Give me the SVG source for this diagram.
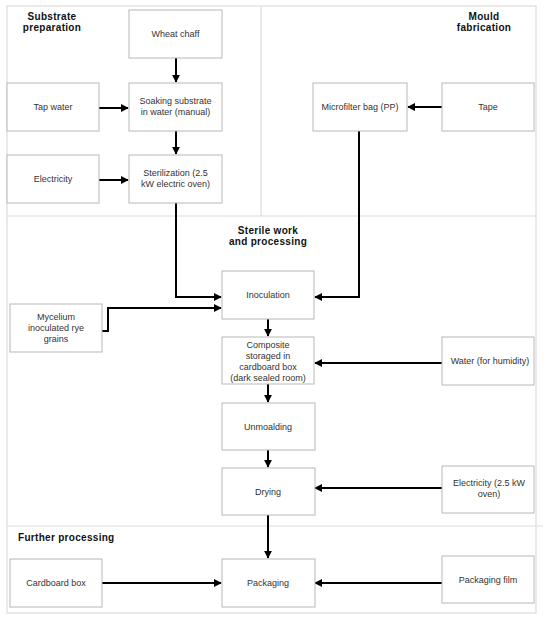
<svg xmlns="http://www.w3.org/2000/svg" width="550" height="621" viewBox="0 0 550 621">
<style>
.panel{fill:none;stroke:#dcdcdc;stroke-width:1.2}
.box{fill:#fff;stroke:#b8b8b8;stroke-width:1}
.t{font-family:"Liberation Sans",Arial,sans-serif;font-size:9px;fill:#333;text-anchor:middle}
.h{font-family:"Liberation Sans",Arial,sans-serif;font-size:10px;font-weight:bold;fill:#111;text-anchor:middle;letter-spacing:0.3px}
.c{fill:none;stroke:#000;stroke-width:2;marker-end:url(#ah)}
</style>
<defs>
<marker id="ah" viewBox="0 0 10 10" refX="9" refY="5" markerWidth="4" markerHeight="4" orient="auto" markerUnits="strokeWidth">
<path d="M0,0 L10,5 L0,10 z" fill="#000"/>
</marker>
</defs>
<rect width="550" height="621" fill="#fff"/>
<g id="panels">
<rect class="panel" x="7" y="6" width="529" height="607"/>
<line class="panel" x1="261" y1="6" x2="261" y2="216"/>
<line class="panel" x1="7" y1="216" x2="536" y2="216"/>
<line class="panel" x1="7" y1="526" x2="543" y2="526"/>
<text class="h" x="52" y="20">Substrate</text>
<text class="h" x="52" y="31">preparation</text>
<text class="h" x="484" y="20">Mould</text>
<text class="h" x="484" y="31">fabrication</text>
<text class="h" x="268" y="234">Sterile work</text>
<text class="h" x="268" y="245">and processing</text>
<text class="h" x="18" y="541" style="text-anchor:start">Further processing</text>
</g>
<g id="connectors">
<line class="c" x1="176" y1="58" x2="176" y2="82"/>
<line class="c" x1="99" y1="108" x2="128" y2="108"/>
<line class="c" x1="176" y1="131" x2="176" y2="154"/>
<line class="c" x1="99" y1="180" x2="128" y2="180"/>
<line class="c" x1="442" y1="107" x2="408" y2="107"/>
<polyline class="c" points="176,203 176,297 221,297"/>
<polyline class="c" points="359,131 359,297 315,297"/>
<polyline class="c" points="102,331 108,331 108,308 221,308"/>
<line class="c" x1="268" y1="319" x2="268" y2="336"/>
<line class="c" x1="442" y1="363" x2="315" y2="363"/>
<line class="c" x1="268" y1="384" x2="268" y2="402"/>
<line class="c" x1="268" y1="450" x2="268" y2="467"/>
<line class="c" x1="442" y1="488" x2="315" y2="488"/>
<line class="c" x1="268" y1="515" x2="268" y2="558"/>
<line class="c" x1="102" y1="583" x2="221" y2="583"/>
<line class="c" x1="442" y1="583" x2="315" y2="583"/>
</g>
<g id="wheat"><rect class="box" x="129" y="10" width="93" height="48"/><text class="t" x="175.5" y="37">Wheat chaff</text></g>
<g id="tapwater"><rect class="box" x="7" y="83" width="92" height="48"/><text class="t" x="53" y="110">Tap water</text></g>
<g id="soaking"><rect class="box" x="129" y="83" width="93" height="48"/><text class="t" x="175.5" y="104">Soaking substrate</text><text class="t" x="175.5" y="115">in water (manual)</text></g>
<g id="electricity1"><rect class="box" x="7" y="155" width="92" height="48"/><text class="t" x="53" y="182">Electricity</text></g>
<g id="sterilization"><rect class="box" x="129" y="155" width="93" height="48"/><text class="t" x="175.5" y="176">Sterilization (2.5</text><text class="t" x="175.5" y="187">kW electric oven)</text></g>
<g id="microfilter"><rect class="box" x="313" y="83" width="94" height="48"/><text class="t" x="360" y="110">Microfilter bag (PP)</text></g>
<g id="tape"><rect class="box" x="442" y="83" width="92" height="48"/><text class="t" x="488" y="110">Tape</text></g>
<g id="inoculation"><rect class="box" x="222" y="271" width="92" height="48"/><text class="t" x="268" y="298">Inoculation</text></g>
<g id="mycelium"><rect class="box" x="10" y="304" width="92" height="48"/><text class="t" x="56" y="320">Mycelium</text><text class="t" x="56" y="331">inoculated rye</text><text class="t" x="56" y="342">grains</text></g>
<g id="composite"><rect class="box" x="222" y="337" width="92" height="47"/><text class="t" x="268" y="348">Composite</text><text class="t" x="268" y="359">storaged in</text><text class="t" x="268" y="370">cardboard box</text><text class="t" x="268" y="381">(dark sealed room)</text></g>
<g id="water"><rect class="box" x="442" y="337" width="92" height="48"/><text class="t" x="490" y="364">Water (for humidity)</text></g>
<g id="unmoalding"><rect class="box" x="222" y="403" width="93" height="47"/><text class="t" x="268" y="430">Unmoalding</text></g>
<g id="drying"><rect class="box" x="222" y="468" width="93" height="47"/><text class="t" x="268" y="495">Drying</text></g>
<g id="electricity2"><rect class="box" x="442" y="466" width="92" height="47"/><text class="t" x="489" y="486">Electricity (2.5 kW</text><text class="t" x="489" y="497">oven)</text></g>
<g id="cardboard"><rect class="box" x="10" y="559" width="92" height="48"/><text class="t" x="56" y="586">Cardboard box</text></g>
<g id="packaging"><rect class="box" x="222" y="559" width="93" height="48"/><text class="t" x="268" y="586">Packaging</text></g>
<g id="film"><rect class="box" x="442" y="556" width="92" height="47"/><text class="t" x="488" y="583">Packaging film</text></g>
</svg>
